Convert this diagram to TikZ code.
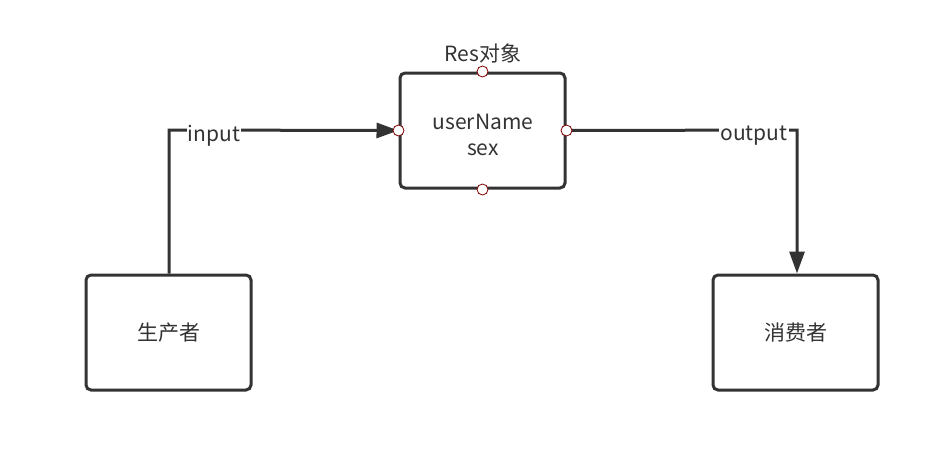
\documentclass[tikz,border=0pt]{standalone}
\usepackage{fontspec}
\setmainfont{Noto Sans CJK SC}
\usetikzlibrary{arrows.meta}
\begin{document}
\begin{tikzpicture}[x=1pt,y=-1pt,
  box/.style={draw=black!80,line width=3pt,rounded corners=5pt,minimum width=165pt,minimum height=115pt,inner sep=0pt,align=center,font=\fontsize{21}{27}\selectfont,text=black!80},
  txt/.style={align=center,font=\fontsize{21}{26}\selectfont,text=black!80,inner sep=0pt},
  conn/.style={draw=black!80,line width=3pt,-{Triangle[length=22pt,width=15pt]}},
  lbl/.style={fill=white,inner sep=1pt,font=\fontsize{21}{24}\selectfont,text=black!80},
  port/.style={circle,draw=red!50!black,fill=white,line width=0.8pt,minimum size=11pt,inner sep=0pt}]
\useasboundingbox (0,0) rectangle (941,451);
\node[box] (res) at (482.5,130.5) {};
\node[txt] (restext) at (483,135) {userName\\sex};
\node[box] (prod) at (168.5,332.5) {生产者};
\node[box] (cons) at (795.5,332.5) {消费者};
\node[txt] (title) at (483,53) {Res对象};
\coordinate (c1) at (169,130);
\coordinate (c2) at (797,130);
\draw[conn] (prod.north -| c1) -- (c1) -- (res.west);
\draw[conn] (res.east) -- (c2) -- (cons.north -| c2);
\node[lbl] (in) at (214,136) {input};
\node[lbl] (out) at (754,136) {output};
\node[port] (pn) at (res.north) {};
\node[port] (ps) at (res.south) {};
\node[port] (pw) at (res.west) {};
\node[port] (pe) at (res.east) {};
\end{tikzpicture}
\end{document}
